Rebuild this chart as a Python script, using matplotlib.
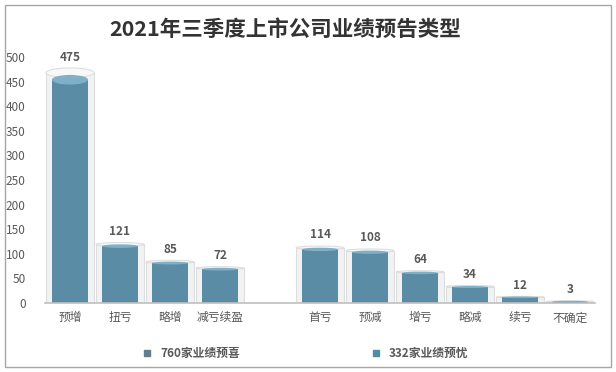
import matplotlib.pyplot as plt
from matplotlib.patches import Ellipse, Rectangle
from matplotlib.lines import Line2D

plt.rcParams['font.family'] = ['Noto Sans CJK SC', 'DejaVu Sans']

cats_up = ['预增', '扭亏', '略增', '减亏续盈']
vals_up = [475, 121, 85, 72]
cats_down = ['首亏', '预减', '增亏', '略减', '续亏', '不确定']
vals_down = [114, 108, 64, 34, 12, 3]
series_names = ['760家业绩预喜', '332家业绩预忧']
title = '2021年三季度上市公司业绩预告类型'

blue = '#5a8ca6'
blue_top = '#7fb0c7'
grey_txt = '#595959'

# positions: one empty slot between the two groups
pos_up = list(range(len(cats_up)))
pos_down = [len(cats_up) + 1 + i for i in range(len(cats_down))]

fig = plt.figure(figsize=(6.16, 3.72), dpi=100)
ax = fig.add_axes([0.073, 0.1855, 0.893, 0.6615])

def cylinder(x, v):
    eh = 3 + v * 0.035
    # glass outer cylinder
    ax.add_patch(Rectangle((x - 0.48, 0), 0.96, v * 0.985, facecolor='#f1f2f3',
                           edgecolor='#dedede', lw=0.8, zorder=1))
    ax.add_patch(Ellipse((x, v * 0.985), 0.96, eh, facecolor='#f7f8f8',
                         edgecolor='#dedede', lw=0.8, zorder=1.5))
    # inner blue bar
    top = v * 0.955
    ax.bar(x, top, width=0.72, color=blue, zorder=2)
    ax.add_patch(Ellipse((x, 0), 0.72, eh, facecolor=blue, lw=0, zorder=2))
    ax.add_patch(Ellipse((x, top), 0.72, eh, facecolor=blue_top, lw=0, zorder=3))
    ax.annotate(str(v), (x, v), xytext=(0, 4), textcoords='offset points',
                ha='center', va='bottom', fontsize=8.5, fontweight='bold', color=grey_txt)

for x, v in zip(pos_up + pos_down, vals_up + vals_down):
    cylinder(x, v)

ax.set_xlim(-0.5, 10.5)
ax.set_ylim(0, 500)
ax.set_yticks(range(0, 501, 50))
ax.set_xticks(pos_up + pos_down)
ax.set_xticklabels(cats_up + cats_down)
ax.tick_params(axis='both', length=0, colors=grey_txt, labelsize=8.5)
ax.tick_params(axis='y', pad=14)
ax.tick_params(axis='x', pad=6)
for s in ['top', 'right', 'left']:
    ax.spines[s].set_visible(False)
ax.spines['bottom'].set_color('#bfbfbf')
ax.spines['bottom'].set_linewidth(1.2)

fig.text(0.463, 0.922, title, ha='center', va='center', fontsize=15.5,
         fontweight='bold', color='#333333')

handles = [Line2D([], [], marker='s', ls='', color='#5f7d8d', markersize=4),
           Line2D([], [], marker='s', ls='', color='#4e8fa2', markersize=4)]
leg = fig.legend(handles, series_names, loc='center', bbox_to_anchor=(0.49, 0.05),
                 ncol=2, frameon=False, columnspacing=10.5, handletextpad=0.1,
                 prop={'size': 8.5, 'weight': 'bold'})
for t in leg.get_texts():
    t.set_color(grey_txt)

fig.add_artist(Rectangle((0.008, 0.013), 0.984, 0.974, transform=fig.transFigure,
                         fill=False, edgecolor='#a6a6a6', lw=1))

fig.savefig('out.png', dpi=100)
